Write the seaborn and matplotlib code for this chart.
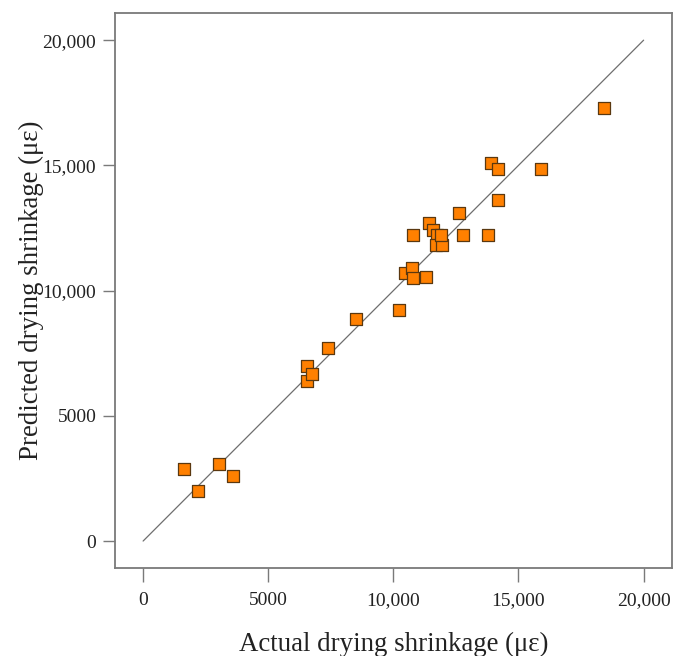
import matplotlib
matplotlib.use("Agg")
import matplotlib.pyplot as plt
import seaborn as sns
import pandas as pd
from matplotlib.ticker import FuncFormatter

actual = [1640, 2200, 3040, 3600, 6560, 6560, 6760, 7400, 8520, 10240,
          10480, 10760, 10800, 11320, 10800, 11440, 11600, 11760, 11720, 11960,
          11920, 12640, 12800, 13800, 13920, 14200, 14200, 15880, 18400]
predicted = [2874, 1996, 3074, 2595, 6986, 6387, 6667, 7705, 8862, 9221,
             10698, 10898, 10499, 10539, 12216, 12695, 12415, 12216, 11816, 11816,
             12216, 13094, 12216, 12216, 15090, 14850, 13613, 14850, 17285]
ticks = [0, 5000, 10000, 15000, 20000]
line_x = [0, 20000]
line_y = [0, 20000]

df = pd.DataFrame({"actual": actual, "predicted": predicted})

sns.set_theme(style="white")
plt.rcParams['font.family'] = ['Liberation Serif', 'DejaVu Serif']

fig = plt.figure(figsize=(6.73, 6.56), dpi=100)
ax = fig.add_axes([0.171, 0.134, 0.827, 0.846])

sns.lineplot(x=line_x, y=line_y, ax=ax, color="#6e6e6e", linewidth=0.9)
sns.scatterplot(data=df, x="actual", y="predicted", ax=ax, marker="s", s=70,
                color="#FF8000", edgecolor="#5a3810", linewidth=0.9, zorder=3)

ax.set_xlim(-1120, 21120)
ax.set_ylim(-1080, 21080)
ax.set_xticks(ticks)
ax.set_yticks(ticks)

def fmt(v, pos):
    v = int(round(v))
    return f"{v:,}" if v >= 10000 else str(v)

ax.xaxis.set_major_formatter(FuncFormatter(fmt))
ax.yaxis.set_major_formatter(FuncFormatter(fmt))

for sp in ax.spines.values():
    sp.set_color("#7a7a7a")
    sp.set_linewidth(1.3)

ax.tick_params(axis="both", which="major", direction="out", width=1.0,
               color="#7a7a7a", labelsize=14, labelcolor="#222222",
               bottom=True, left=True)
ax.tick_params(axis="x", length=10, pad=7)
ax.tick_params(axis="y", length=8.5, pad=5)

ax.set_xlabel("Actual drying shrinkage (με)", fontsize=19.4, color="#222222", labelpad=17)
ax.set_ylabel("Predicted drying shrinkage (με)", fontsize=19.4, color="#222222", labelpad=-1)

fig.savefig("out.png", dpi=100)
